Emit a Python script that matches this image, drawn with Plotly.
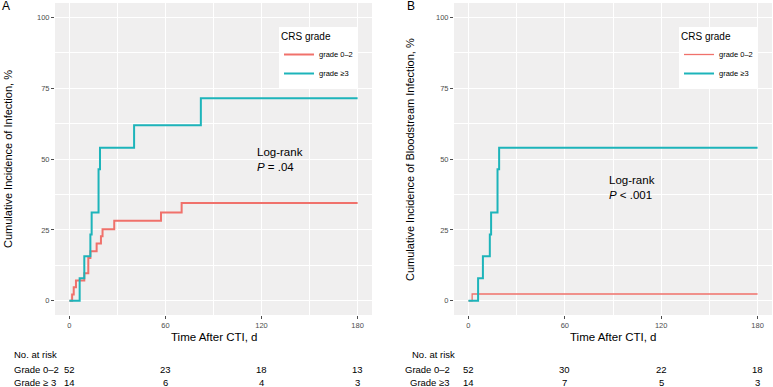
import plotly.graph_objects as go

# ---------------- data ----------------
a_low_t = [0, 1.7, 2.7, 4.1, 9.3, 11.8, 13.1, 17.0, 19.7, 20.7, 28.0, 57.2, 70.1, 180]
a_low_y = [0, 2.2, 4.8, 7.2, 9.7, 15.1, 17.5, 20.2, 22.8, 25.2, 28.2, 31.1, 34.5, 34.5]
a_high_t = [0, 6.4, 9.3, 13.1, 13.9, 18.2, 19.1, 40.4, 82.1, 180]
a_high_y = [0, 8.0, 15.7, 23.4, 31.1, 46.4, 54.0, 61.9, 71.4, 71.4]

b_low_t = [0, 2.3, 180]
b_low_y = [0, 2.4, 2.4]
b_high_t = [0, 6.0, 9.0, 13.3, 14.1, 18.1, 19.1, 180]
b_high_y = [0, 8.0, 15.7, 23.4, 31.1, 46.4, 54.0, 54.0]

risk_times = [0, 60, 120, 180]
a_risk_low = [52, 23, 18, 13]
a_risk_high = [14, 6, 4, 3]
b_risk_low = [52, 30, 22, 18]
b_risk_high = [14, 7, 5, 3]

x_ticks = [0, 60, 120, 180]
y_ticks = [0, 25, 50, 75, 100]

RED = "#F0716B"
TEAL = "#1DB4BA"
W, H = 773, 387
FONT = "Liberation Sans, Arial, sans-serif"


def px(x):
    return x / W


def py(y):
    return 1 - y / H


fig = go.Figure()
fig.add_trace(go.Scatter(x=a_low_t, y=a_low_y, mode="lines", line=dict(color=RED, width=2, shape="hv"),
                         name="grade 0–2", xaxis="x", yaxis="y", legend="legend"))
fig.add_trace(go.Scatter(x=a_high_t, y=a_high_y, mode="lines", line=dict(color=TEAL, width=2, shape="hv"),
                         name="grade ≥3", xaxis="x", yaxis="y", legend="legend"))
fig.add_trace(go.Scatter(x=b_low_t, y=b_low_y, mode="lines", line=dict(color=RED, width=1.3, shape="hv"),
                         name="grade 0–2", xaxis="x2", yaxis="y2", legend="legend2"))
fig.add_trace(go.Scatter(x=b_high_t, y=b_high_y, mode="lines", line=dict(color=TEAL, width=2, shape="hv"),
                         name="grade ≥3", xaxis="x2", yaxis="y2", legend="legend2"))

ydom = [py(315), py(3)]
axis_common = dict(
    showgrid=True, gridcolor="white", gridwidth=1.1, zeroline=False, showline=False,
    ticks="outside", ticklen=3, tickcolor="#4D4D4D", tickwidth=0.8, automargin=False,
    tickfont=dict(size=7.5, color="#4D4D4D", family=FONT),
)
xcommon = dict(axis_common, range=[-9, 189], tickvals=x_ticks,
               minor=dict(dtick=30, tick0=0, showgrid=True, gridcolor="white", gridwidth=0.5, ticks=""))
ycommon = dict(axis_common, range=[-5, 105], tickvals=y_ticks,
               minor=dict(dtick=12.5, tick0=0, showgrid=True, gridcolor="white", gridwidth=0.5, ticks=""))

legend_common = dict(xanchor="right", yanchor="top", bgcolor="white",
                     title=dict(text="CRS grade", font=dict(size=10)), font=dict(size=7.5),
                     itemwidth=30, tracegroupgap=0)

fig.update_layout(
    width=W, height=H, margin=dict(l=0, r=0, t=0, b=0, autoexpand=False),
    paper_bgcolor="white", plot_bgcolor="#F0EFEF",
    font=dict(family=FONT, color="black"),
    xaxis=dict(xcommon, domain=[px(55), px(372)], anchor="y"),
    yaxis=dict(ycommon, domain=ydom, anchor="x"),
    xaxis2=dict(xcommon, domain=[px(454), px(772)], anchor="y2"),
    yaxis2=dict(ycommon, domain=ydom, anchor="x2"),
    legend=dict(legend_common, x=px(358), y=py(27)),
    legend2=dict(legend_common, x=px(758), y=py(27)),
)

ann = []


def add(text, x, y, xref="paper", yref="paper", xanchor="center", size=9.5, **kw):
    ann.append(dict(text=text, x=x, y=y, xref=xref, yref=yref, xanchor=xanchor, yanchor="middle",
                    showarrow=False, font=dict(size=size), **kw))


# panel letters
add("A", px(6), py(6), size=12)
add("B", px(411), py(6), size=12)
# y titles
add("Cumulative Incidence of Infection, %", px(8), py(159), size=11, textangle=-90)
add("Cumulative Incidence of Bloodstream Infection, %", px(410), py(159), size=11, textangle=-90)
# x titles
add("Time After CTI, d", 90, py(337), xref="x", size=11.5)
add("Time After CTI, d", 90, py(337), xref="x2", size=11.5)
# log-rank
add("Log-rank<br><i>P</i> = .04", 116, 50, xref="x", yref="y", xanchor="left", size=11.5, align="left")
add("Log-rank<br><i>P</i> &lt; .001", 86.5, 40, xref="x2", yref="y2", xanchor="left", size=11.5, align="left")
# risk tables
R0, R1, R2 = 354, 369, 382
add("No. at risk", px(12), py(R0), xanchor="left")
add("Grade 0–2", px(12), py(R1), xanchor="left")
add("Grade ≥ 3", px(12), py(R2), xanchor="left")
add("No. at risk", px(410), py(R0), xanchor="left")
add("Grade 0–2", px(452), py(R1), xanchor="right")
add("Grade ≥3", px(452), py(R2), xanchor="right")
for t, lo, hi in zip(risk_times, a_risk_low, a_risk_high):
    add(str(lo), t, py(R1), xref="x")
    add(str(hi), t, py(R2), xref="x")
for t, lo, hi in zip(risk_times, b_risk_low, b_risk_high):
    add(str(lo), t, py(R1), xref="x2")
    add(str(hi), t, py(R2), xref="x2")

fig.update_layout(annotations=ann)
fig.write_html("out.html", config={"displayModeBar": False},
               post_script="document.body.style.margin='0';document.body.style.overflow='hidden';")
